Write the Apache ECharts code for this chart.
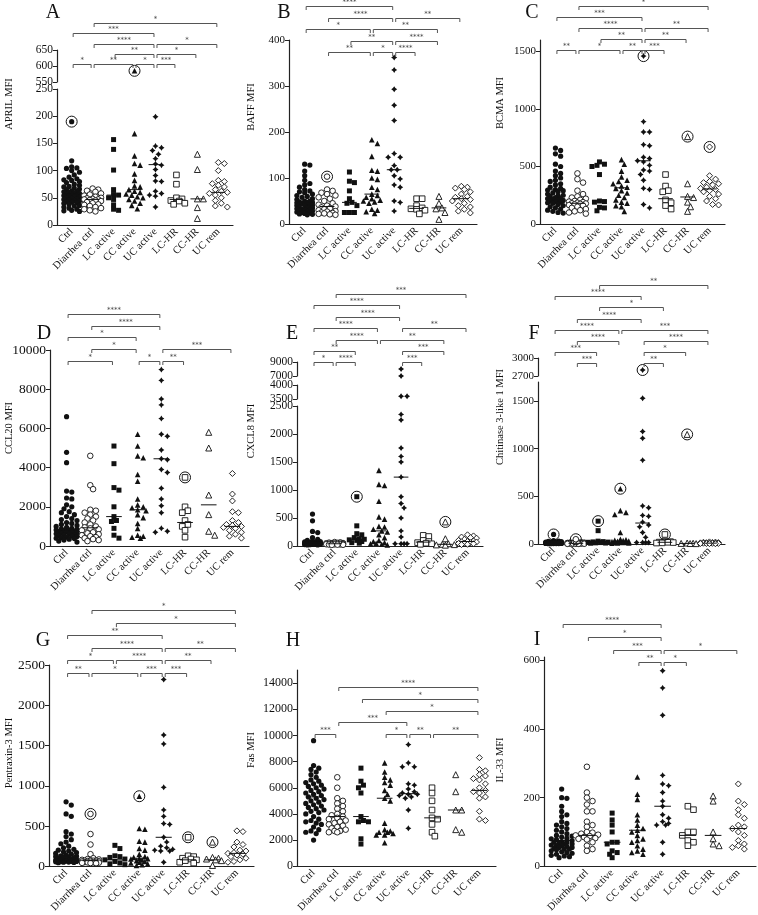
<!DOCTYPE html>
<html>
<head>
<meta charset="utf-8">
<script src="https://cdn.jsdelivr.net/npm/echarts@6/dist/echarts.min.js"></script>
<style>html,body{margin:0;padding:0;background:#fff}#chart{width:758px;height:915px}</style>
</head>
<body>
<div id="chart"></div>
<script>
const GROUPS=['Ctrl','Diarrhea ctrl','LC active','CC active','UC active','LC-HR','CC-HR','UC rem'];

// A - APRIL
const aprilValues=[
 [118,107,105,104,100,97,92,88,85,83,82,80,78,75,73,71,70,68,66,65,63,62,61,60,59,58,57,56,55,54,53,52,51,50,49,48,47,46,45,44,43,42,41,40,38,36,35,33,31,29,27,26,25],
 [67,65,63,61,58,56,54,52,50,49,48,47,47,46,45,44,42,40,38,37,35,33,31,29,27,25],
 [157,139,101,65,56,55,50,47,37,29,27],
 [168,127,113,110,94,82,72,70,65,62,60,57,55,52,50,47,44,40,36,30],
 [199,145,142,137,130,122,112,110,102,91,81,80,62,58,55,53,33],
 [92,75,50,48,45,44,40,38],
 [130,102,48,48,32,12],
 [115,113,100,82,80,76,73,70,65,62,60,58,55,50,45,40,35,33]
];
const aprilCircled=[[0,190],[3,585]];
const aprilMedians=[57,47,55,65,111,47,48,60];
const aprilBrackets=[[1,7,'*',0],[0,4,'***',1],[1,4,'****',2],[4,7,'*',2],[2,4,'**',3],[4,6,'*',3],[0,1,'*',4],[1,3,'**',4],[3,4,'*',4],[4,5,'***',4]];

// B - BAFF
const baffValues=[
 [130,128,115,105,95,88,85,80,75,72,70,68,65,62,60,58,55,53,50,50,48,47,47,46,45,45,44,43,42,41,40,40,38,36,35,35,33,32,30,30,29,28,27,26,25,24,23,22,21,20],
 [75,72,68,65,62,58,55,50,45,42,40,38,36,34,32,30,28,27,25,24,23,22,21,20],
 [113,93,90,72,55,47,45,40,25,25,25],
 [183,175,147,117,115,100,97,80,75,65,62,58,55,52,50,48,45,32,30,27,23],
 [362,335,293,258,225,153,145,145,127,118,118,105,98,85,80,50,47,28],
 [55,55,40,35,33,32,30,22],
 [60,45,35,33,25,10],
 [82,80,78,75,70,65,60,58,55,53,50,45,40,37,32,28,24]
];
const baffCircled=[[1,103]];
const baffMedians=[47,38,47,65,118,34,35,55];
const baffBrackets=[[0,4,'****',0],[1,4,'****',1],[4,7,'**',1],[0,3,'*',2],[3,6,'**',2],[2,4,'**',3],[4,6,'****',3],[1,3,'**',4],[3,4,'*',4],[4,5,'****',4]];

// C - BCMA
const bcmaValues=[
 [660,640,610,590,520,500,460,440,420,400,380,370,350,340,320,310,300,295,290,280,270,260,250,245,240,230,225,220,215,210,205,200,195,190,185,180,170,160,150,140,130,120,110,100,95],
 [440,390,360,290,260,240,230,220,210,200,195,190,185,180,178,175,170,165,160,150,140,130,120,110,100,90],
 [540,520,510,500,430,200,195,190,145,140,115],
 [560,520,460,410,380,370,350,330,320,310,290,270,250,230,210,190,180,160,150,110],
 [890,800,800,690,680,580,570,550,540,510,470,460,430,380,310,300,170,140],
 [430,330,290,280,210,185,160,130],
 [350,240,230,190,150,110],
 [420,390,370,360,350,340,320,310,300,290,280,260,240,220,200,170,165]
];
const bcmaCircled=[[4,1460],[6,760],[7,670]];
const bcmaMedians=[297,180,200,315,550,220,235,305];
const bcmaBrackets=[[1,7,'*',0],[0,4,'***',1],[1,4,'****',2],[4,7,'**',2],[2,4,'**',3],[4,6,'**',3],[0,1,'**',4],[1,3,'*',4],[3,4,'**',4],[4,5,'***',4]];

// D - CCL20
const ccl20Values=[
 [6600,4780,4250,2800,2750,2450,2400,2100,2000,1900,1750,1700,1600,1500,1400,1350,1300,1200,1150,1100,1050,1000,950,900,870,850,820,800,780,760,740,720,700,680,650,620,600,580,550,520,500,480,450,420,400,380,350,300,250,200],
 [4600,3100,2900,1850,1800,1700,1600,1500,1400,1300,1200,1100,1000,950,900,850,800,700,650,600,550,500,450,400,350,300,250],
 [5100,4200,2980,2850,2000,1500,1300,1250,900,550,400],
 [5700,5100,4600,4500,3650,3300,2400,2100,2000,1950,1850,1800,1600,1450,1150,900,550,500,450,400],
 [9000,8450,7500,7200,6500,5700,5600,4900,4450,4400,3900,3750,2950,2400,2050,1700,900,750,700],
 [2000,1800,1700,1300,1100,1000,800,450],
 [5800,5000,2600,1600,750,550],
 [3700,2650,2300,1750,1700,1300,1200,1100,1050,1000,950,900,800,700,600,500,400]
];
const ccl20Circled=[[5,3500]];
const ccl20Medians=[830,930,1500,1850,4450,1200,2100,1000];
const ccl20Brackets=[[0,4,'****',0],[1,4,'****',1],[0,3,'*',2],[1,3,'*',3],[4,7,'***',3],[0,2,'*',4],[3,4,'*',4],[4,5,'**',4]];

// E - CXCL8
const cxcl8Values=[
 [570,450,260,240,150,120,100,90,80,75,70,65,60,58,55,52,50,50,48,45,45,42,40,40,38,35,35,32,30,30,28,25,22,20,18],
 [70,65,60,55,52,50,48,45,42,40,38,36,34,32,30,28,26,24,22,20],
 [360,220,200,150,130,120,110,100,80,60,50],
 [1350,1100,1080,800,520,480,350,340,300,270,250,200,150,100,80,60,50,40,30,20],
 [8000,7000,3600,3600,2350,2250,1750,1600,1500,1230,880,760,680,500,270,160,40,40,40,40],
 [190,170,100,80,60,50,40,30],
 [130,40,30,25,20,15],
 [200,180,160,150,140,120,100,90,80,75,70,60,50,45,40,30,25]
];
const cxcl8Circled=[[2,880],[6,430]];
const cxcl8Medians=[50,40,120,270,1230,70,30,80];
const cxcl8Brackets=[[1,7,'***',0],[0,4,'****',1],[1,4,'****',2],[0,3,'****',3],[4,7,'**',3],[1,3,'****',4],[3,6,'**',4],[0,2,'**',5],[4,6,'***',5],[0,1,'*',6],[1,2,'****',6],[4,5,'***',6]];

// F - Chitinase 3-like 1
const chi3l1Values=[
 [35,30,28,25,22,20,20,18,18,16,15,15,14,13,12,12,12,11,10,10,10,9,9,8,8,8,7,7,6,6,6,5,5,5,5,4,4,4,3,3],
 [20,18,16,15,14,12,11,10,9,8,8,7,7,6,6,5,5,4,4,3,3,2,2],
 [140,30,25,22,20,18,15,12,10,8],
 [350,330,310,120,50,45,40,35,30,28,25,22,20,18,15,12,10,8],
 [1530,1180,1110,880,400,380,300,290,230,200,180,120,70,15,15,15,15],
 [30,25,20,18,15,12,10],
 [10,8,6,5,4],
 [22,20,18,16,15,14,12,10,9,8,7,6,5,5,4,3]
];
const chi3l1Circled=[[0,100],[1,50],[2,240],[3,580],[4,2800],[5,100],[6,1150]];
const chi3l1Medians=[10,7,18,30,220,18,6,9];
const chi3l1Brackets=[[2,7,'**',0],[0,4,'****',1],[2,5,'*',2],[1,4,'****',3],[0,3,'****',4],[3,7,'***',4],[1,3,'****',5],[4,7,'****',5],[0,2,'***',6],[4,6,'*',6],[1,2,'***',7],[4,5,'**',7]];

// G - Pentraxin-3
const ptx3Values=[
 [800,760,650,620,430,400,370,330,300,280,250,230,210,200,190,180,170,160,150,140,130,125,120,115,110,105,100,95,90,85,80,78,75,72,70,68,65,62,60,58,55,52,50,48,45],
 [400,270,150,100,90,85,80,75,72,70,68,65,62,60,58,55,52,50,48,45,42,40,38],
 [260,220,130,120,110,90,80,60,40,30,20],
 [470,460,310,300,220,200,150,120,110,100,95,90,80,70,60,50,40,30,20,10],
 [2320,1630,1520,980,700,620,530,520,360,300,250,230,210,200,190,190,50],
 [130,120,100,90,80,70,50,40],
 [110,100,90,80,70,10],
 [440,430,300,270,240,200,190,170,160,150,140,120,100,80,60,50]
];
const ptx3Circled=[[1,650],[3,870],[5,360],[6,300]];
const ptx3Medians=[140,70,80,100,360,80,80,160];
const ptx3Brackets=[[1,7,'*',0],[2,7,'*',1],[0,4,'**',2],[1,4,'****',3],[4,7,'**',3],[0,2,'*',4],[2,4,'****',4],[4,6,'**',4],[0,1,'**',5],[1,3,'*',5],[3,4,'***',5],[4,5,'***',5]];

// H - Fas
const fasValues=[
 [9600,7700,7500,7400,7200,7000,6800,6600,6500,6400,6300,6200,6100,6000,5900,5800,5700,5600,5500,5400,5300,5200,5100,5000,4900,4800,4700,4600,4500,4400,4300,4200,4100,4000,3800,3600,3500,3400,3300,3200,3000,2800,2700,2600,2500,2000],
 [6800,6000,5200,5000,4800,4600,4400,4200,4000,3900,3800,3700,3600,3500,3400,3300,3200,3100,3000,2900,2800,2700,2700,2600,2600],
 [7500,6500,6200,6000,5600,3800,3500,3400,3400,2100,1700],
 [7900,7200,6800,6600,6400,6200,5800,5500,5200,5000,3300,2800,2700,2600,2600,2500,2400,2400,1800],
 [9300,7900,7600,7600,6300,6200,5900,5700,5600,5500,5500,5400,5300,5200,4300,2900],
 [6000,5600,5000,4300,3700,3600,3200,2600,2300],
 [7000,5700,4300,4300,2800,2600],
 [8300,7400,7300,7000,6900,6700,6600,6300,6000,5800,5700,5600,5300,5200,4200,3600,3500]
];
const fasCircled=[];
const fasMedians=[5300,3800,3800,5200,5550,3700,4300,5800];
const fasBrackets=[[1,7,'****',0],[2,7,'*',1],[3,7,'*',2],[1,4,'***',3],[0,1,'***',4],[3,4,'*',4],[4,5,'**',4],[5,7,'**',4]];

// I - IL-33
const il33Values=[
 [225,200,198,175,160,150,145,130,125,120,115,110,105,100,95,90,88,85,82,80,78,75,72,70,70,68,65,65,62,60,60,58,55,55,52,50,50,48,45,42,40,38,35,32,30,28,25],
 [290,215,200,190,180,160,160,130,120,115,100,98,95,92,90,88,85,82,80,78,70,60,50,45],
 [155,135,120,100,70,70,65,45,40,35,25],
 [260,210,195,150,135,120,110,105,100,90,80,75,70,60,50,45,40,35],
 [570,520,440,265,240,235,215,190,175,150,140,130,125,120,120,70,35],
 [175,165,100,100,90,75,70,60],
 [205,190,100,80,65,60],
 [240,190,180,165,150,140,120,115,110,100,90,75,65,60,55,50]
];
const il33Circled=[];
const il33Medians=[75,90,70,105,175,90,90,110];
const il33Brackets=[[0,4,'****',0],[1,4,'*',1],[2,4,'***',2],[4,7,'*',2],[3,4,'**',3],[4,5,'*',3]];

// panel layout (pixels), segments listed bottom first
const PANELS=[
 {letter:'A',name:'APRIL MFI',values:aprilValues,circled:aprilCircled,medians:aprilMedians,brackets:aprilBrackets,
  left:57,width:176,segs:[{min:0,max:250,ticks:[0,50,100,150,200,250],top:89,height:136},{min:550,max:650,ticks:[550,600,650],top:50,height:32}],
  by:23,bdy:10.3,lx:53,ly:13,nx:9,ny:104,fs:11.5,fx:10.5},
 {letter:'B',name:'BAFF MFI',values:baffValues,circled:baffCircled,medians:baffMedians,brackets:baffBrackets,
  left:289,width:188,segs:[{min:0,max:400,ticks:[0,100,200,300,400],top:40,height:184}],
  by:6,bdy:11.5,lx:284,ly:13,nx:251,ny:107,fs:11,fx:10.5},
 {letter:'C',name:'BCMA MFI',values:bcmaValues,circled:bcmaCircled,medians:bcmaMedians,brackets:bcmaBrackets,
  left:540,width:185,segs:[{min:0,max:1600,ticks:[0,500,1000,1500],top:40,height:184}],
  by:5.5,bdy:11.1,lx:532,ly:13,nx:500,ny:103,fs:11,fx:10.5},
 {letter:'D',name:'CCL20 MFI',values:ccl20Values,circled:ccl20Circled,medians:ccl20Medians,brackets:ccl20Brackets,
  left:50,width:199,segs:[{min:0,max:10000,ticks:[0,2000,4000,6000,8000,10000],top:350,height:196}],
  by:314,bdy:11.7,lx:44,ly:334,nx:9,ny:428,fs:13.5,fx:10.5},
 {letter:'E',name:'CXCL8 MFI',values:cxcl8Values,circled:cxcl8Circled,medians:cxcl8Medians,brackets:cxcl8Brackets,
  left:297,width:186,segs:[{min:0,max:2500,ticks:[0,500,1000,1500,2000,2500],top:406,height:140},
   {min:3500,max:4000,ticks:[3500,4000],top:385,height:14},{min:7000,max:9000,ticks:[7000,9000],top:362,height:14}],
  by:294,bdy:11.4,lx:292,ly:334,nx:251,ny:431,fs:11.5,fx:10.5},
 {letter:'F',name:'Chitinase 3-like 1 MFI',values:chi3l1Values,circled:chi3l1Circled,medians:chi3l1Medians,brackets:chi3l1Brackets,
  left:538,width:187,segs:[{min:0,max:1700,ticks:[0,500,1000,1500],top:382,height:162},{min:2700,max:3000,ticks:[2700,3000],top:358,height:18}],
  by:285,bdy:11.2,lx:534,ly:334,nx:500,ny:417,fs:11,fx:10.5},
 {letter:'G',name:'Pentraxin-3 MFI',values:ptx3Values,circled:ptx3Circled,medians:ptx3Medians,brackets:ptx3Brackets,
  left:49,width:205,segs:[{min:0,max:2500,ticks:[0,500,1000,1500,2000,2500],top:665,height:202}],
  by:610,bdy:12.6,lx:43,ly:641,nx:9,ny:753,fs:13.5,fx:10.5},
 {letter:'H',name:'Fas MFI',values:fasValues,circled:fasCircled,medians:fasMedians,brackets:fasBrackets,
  left:297,width:199,segs:[{min:0,max:15000,ticks:[0,2000,4000,6000,8000,10000,12000,14000],top:670,height:197}],
  by:687,bdy:11.8,lx:293,ly:641,nx:251,ny:750,fs:12,fx:10.5},
 {letter:'I',name:'IL-33 MFI',values:il33Values,circled:il33Circled,medians:il33Medians,brackets:il33Brackets,
  left:544,width:212,segs:[{min:0,max:610,ticks:[0,200,400,600],top:657,height:210}],
  by:624,bdy:12.8,lx:537,ly:640,nx:500,ny:760,fs:11,fx:10.5}
];

const SERIF='"Liberation Serif","DejaVu Serif",serif';
const INK='#111';
const SYM=[
 {symbol:'circle',size:5.2,fill:INK},
 {symbol:'circle',size:5.6,fill:'#fff'},
 {symbol:'rect',size:5,fill:INK},
 {symbol:'triangle',size:5.6,fill:INK},
 {symbol:'path://M0,-10L4,-4L10,0L4,4L0,10L-4,4L-10,0L-4,-4Z',size:6,fill:INK},
 {symbol:'rect',size:5.6,fill:'#fff'},
 {symbol:'triangle',size:6,fill:'#fff'},
 {symbol:'diamond',size:6,fill:'#fff'}
];

function segOf(p,v){
  for(let i=p.segs.length-1;i>=0;i--){ if(v>=p.segs[i].min) return i; }
  return 0;
}
function toPx(p,v){
  const s=p.segs[segOf(p,v)];
  return s.top+s.height-(v-s.min)/(s.max-s.min)*s.height;
}
// simple beeswarm: push overlapping points sideways
function swarm(p,vals,gi){
  const pxCat=p.width/8.4, size=SYM[gi].size, step=size*0.5, minD=size*0.85;
  const lim=Math.floor(pxCat*0.45/step);
  const order=vals.map((v,i)=>i).sort((a,b)=>vals[b]-vals[a]);
  const placed=[], out=[];
  order.forEach(i=>{
    const y=toPx(p,vals[i]);
    let best=0,score=-1;
    for(let k=0;k<=2*lim;k++){
      const off=(k%2?1:-1)*Math.ceil(k/2)*step;
      let dmin=Infinity;
      placed.forEach(q=>{const d=Math.hypot(q[0]-off,q[1]-y); if(d<dmin) dmin=d;});
      if(dmin>=minD){best=off;break;}
      if(dmin>score){score=dmin;best=off;}
    }
    placed.push([best,y]);
    out.push([gi+best/pxCat,vals[i]]);
  });
  return out;
}

const grid=[],xAxis=[],yAxis=[],series=[],graphic=[];
PANELS.forEach(p=>{
  const base=grid.length;
  p.segs.forEach((s,si)=>{
    grid.push({left:p.left,top:s.top,width:p.width,height:s.height,containLabel:false});
    xAxis.push({type:'value',gridIndex:base+si,min:-0.7,max:7.7,show:si===0,
      axisLine:{show:true,onZero:false,lineStyle:{color:'#222',width:1.2}},
      axisTick:{show:false},splitLine:{show:false},
      axisLabel:{customValues:[0,1,2,3,4,5,6,7],formatter:v=>GROUPS[Math.round(v)],rotate:45,margin:5,
        fontFamily:SERIF,fontSize:p.fx,color:INK}});
    yAxis.push({type:'value',gridIndex:base+si,min:s.min,max:s.max,
      axisLine:{show:true,onZero:false,lineStyle:{color:'#222',width:1.2}},
      axisTick:{show:true,length:4,customValues:s.ticks,lineStyle:{color:'#222',width:1}},
      splitLine:{show:false},
      axisLabel:{customValues:s.ticks,formatter:v=>String(v),margin:4,fontFamily:SERIF,fontSize:p.fs,color:INK}});
  });
  // points
  p.values.forEach((vals,gi)=>{
    const pts=swarm(p,vals,gi);
    p.segs.forEach((s,si)=>{
      const d=pts.filter(q=>segOf(p,q[1])===si);
      if(!d.length) return;
      series.push({type:'scatter',xAxisIndex:base+si,yAxisIndex:base+si,symbol:SYM[gi].symbol,symbolSize:SYM[gi].size,
        itemStyle:{color:SYM[gi].fill,borderColor:INK,borderWidth:SYM[gi].fill==='#fff'?0.9:0,opacity:1},
        data:d,silent:true,animation:false,z:3});
    });
  });
  // circled outliers
  p.circled.forEach(([gi,v])=>{
    const si=segOf(p,v);
    series.push({type:'scatter',xAxisIndex:base+si,yAxisIndex:base+si,symbol:SYM[gi].symbol,symbolSize:SYM[gi].size,
      itemStyle:{color:SYM[gi].fill,borderColor:INK,borderWidth:SYM[gi].fill==='#fff'?0.9:0,opacity:1},
      data:[[gi,v]],silent:true,animation:false,z:3});
    series.push({type:'scatter',xAxisIndex:base+si,yAxisIndex:base+si,symbol:'circle',symbolSize:11,
      itemStyle:{color:'rgba(0,0,0,0)',borderColor:INK,borderWidth:1,opacity:1},
      data:[[gi,v]],silent:true,animation:false,z:4});
  });
  // medians
  series.push({type:'custom',xAxisIndex:base,yAxisIndex:base,silent:true,animation:false,z:5,
    data:p.medians.map((m,i)=>[i,m]),
    renderItem:(params,api)=>{
      const a=api.coord([api.value(0)-0.33,api.value(1)]), b=api.coord([api.value(0)+0.33,api.value(1)]);
      return {type:'line',shape:{x1:a[0],y1:a[1],x2:b[0],y2:b[1]},style:{stroke:INK,lineWidth:1}};
    }});
  // significance brackets
  series.push({type:'custom',xAxisIndex:base,yAxisIndex:base,silent:true,animation:false,z:6,clip:false,
    data:p.brackets.map(b=>[b[0],b[1]]),
    renderItem:(params,api)=>{
      const b=p.brackets[params.dataIndex];
      const x1=api.coord([b[0],0])[0]+1.5, x2=api.coord([b[1],0])[0]-1.5;
      const y=Math.round(p.by+b[3]*p.bdy)+0.5;
      return {type:'group',children:[
        {type:'polyline',shape:{points:[[x1,y+3.5],[x1,y],[x2,y],[x2,y+3.5]]},style:{stroke:'#555',lineWidth:1,fill:null}},
        {type:'text',style:{text:b[2],x:(x1+x2)/2,y:y-0.5,align:'center',verticalAlign:'bottom',fontSize:7,fontFamily:'DejaVu Sans',fill:'#444'}}
      ]};
    }});
  graphic.push({type:'text',x:p.lx,y:p.ly,style:{text:p.letter,font:'20px '+SERIF,fill:INK,align:'center',verticalAlign:'middle'}});
  graphic.push({type:'text',x:p.nx,y:p.ny,rotation:Math.PI/2,style:{text:p.name,font:'10.5px '+SERIF,fill:INK,align:'center',verticalAlign:'middle'}});
});

const chart=echarts.init(document.getElementById('chart'));
chart.setOption({animation:false,grid,xAxis,yAxis,series,graphic});
</script>
</body>
</html>
